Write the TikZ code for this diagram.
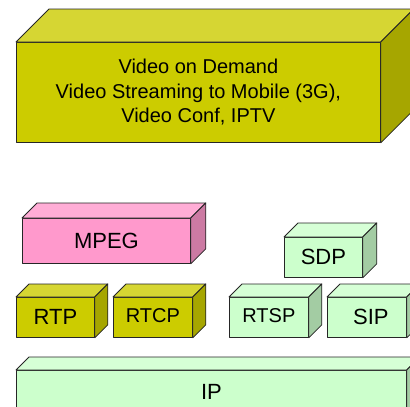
\documentclass[tikz,border=0pt]{standalone}
\usepackage{fontspec}
\setmainfont{Liberation Sans}
\definecolor{yfront}{RGB}{204,204,0}
\definecolor{ytop}{RGB}{214,214,51}
\definecolor{yside}{RGB}{166,166,0}
\definecolor{pfront}{RGB}{255,153,204}
\definecolor{ptop}{RGB}{255,173,214}
\definecolor{pside}{RGB}{204,122,163}
\definecolor{gfront}{RGB}{204,255,204}
\definecolor{gtop}{RGB}{214,255,214}
\definecolor{gside}{RGB}{163,204,163}
\newcommand\prismfaces[4]{%
  \filldraw[face, fill=#3] (#1.north west) -- ++(#2,-#2) -- ([shift={(#2,-#2)}]#1.north east) -- (#1.north east) -- cycle;
  \filldraw[face, fill=#4] (#1.north east) -- ++(#2,-#2) -- ([shift={(#2,-#2)}]#1.south east) -- (#1.south east) -- cycle;
}
\begin{document}
\begin{tikzpicture}[x=1pt,y=-1pt,
  face/.style={draw=black!85, line width=0.8pt, line join=round},
  blk/.style={face, rectangle, anchor=north west, inner sep=0pt, align=center},
  big/.style={font=\fontsize{22}{26}\selectfont},
  mid/.style={font=\fontsize{20}{24}\selectfont},
]
\useasboundingbox (0,0) rectangle (410,407);
\begin{scope}
\clip (0,0) rectangle (410,407);
% application box
\node[blk, fill=yfront, minimum width=364pt, minimum height=100pt,
      font=\fontsize{20}{24.5}\selectfont] (app) at (16,42)
  {Video on Demand\\Video Streaming to Mobile (3G),\\Video Conf, IPTV};
\prismfaces{app}{33}{ytop}{yside}
% MPEG
\node[blk, big, fill=pfront, minimum width=168pt, minimum height=45pt] (mpeg) at (22,218) {MPEG};
\prismfaces{mpeg}{15}{ptop}{pside}
% RTP / RTCP
\node[blk, big, fill=yfront, minimum width=78pt, minimum height=40pt] (rtp) at (16,297) {RTP};
\prismfaces{rtp}{13}{ytop}{yside}
\node[blk, mid, fill=yfront, minimum width=79pt, minimum height=40pt] (rtcp) at (113,297) {\raisebox{3pt}{RTCP}};
\prismfaces{rtcp}{13}{ytop}{yside}
% SDP
\node[blk, big, fill=gfront, minimum width=78pt, minimum height=40pt] (sdp) at (284,237) {SDP};
\prismfaces{sdp}{14}{gtop}{gside}
% RTSP / SIP
\node[blk, mid, fill=gfront, minimum width=79pt, minimum height=40pt] (rtsp) at (229,297) {\raisebox{3pt}{RTSP}};
\prismfaces{rtsp}{13}{gtop}{gside}
\node[blk, big, fill=gfront, minimum width=79pt, minimum height=40pt] (sip) at (327,297) {\hspace*{8pt}SIP};
\prismfaces{sip}{13}{gtop}{gside}
% IP
\node[blk, big, fill=gfront, minimum width=390pt, minimum height=44pt] (ip) at (16,370) {IP};
\prismfaces{ip}{13}{gtop}{gside}
\end{scope}
\end{tikzpicture}
\end{document}
